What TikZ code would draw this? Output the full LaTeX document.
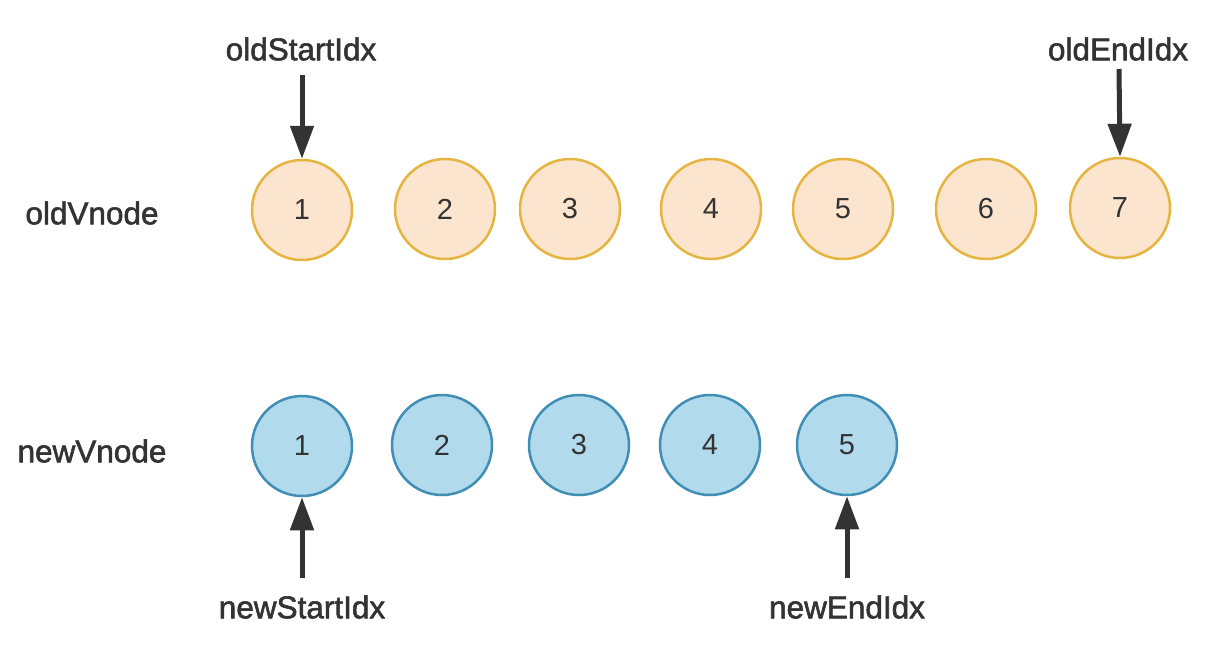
\documentclass[tikz,border=0pt]{standalone}
\usepackage{fontspec}
\setmainfont{Liberation Sans}
\newfontface\medface{Liberation Sans}[FakeBold=1.8]
\usetikzlibrary{arrows.meta}
\definecolor{ofill}{RGB}{252,229,206}
\definecolor{odraw}{RGB}{230,180,64}
\definecolor{bfill}{RGB}{177,218,237}
\definecolor{bdraw}{RGB}{64,142,180}
\definecolor{ink}{RGB}{51,51,51}
\begin{document}
\begin{tikzpicture}[x=1pt,y=-1pt,
  oldc/.style={circle,draw=odraw,fill=ofill,line width=2.5pt,minimum size=100pt,inner sep=0pt,font=\fontsize{29}{32}\selectfont,text=ink},
  newc/.style={circle,draw=bdraw,fill=bfill,line width=2.5pt,minimum size=100pt,inner sep=0pt,font=\fontsize{29}{32}\selectfont,text=ink},
  lbl/.style={inner sep=0pt,font=\medface\fontsize{31.5}{34}\selectfont,text=ink},
  arr/.style={draw=ink,line width=5pt,-{Triangle[length=33pt,width=23pt]}}]
\useasboundingbox (0,0) rectangle (1220,654);
% row labels
\node[lbl] (oldlbl) at (92,213) {oldVnode};
\node[lbl] (newlbl) at (92,451) {newVnode};
% old vnodes
\node[oldc] (o1) at (302,210) {1};
\node[oldc] (o2) at (445,209) {2};
\node[oldc] (o3) at (570,209) {3};
\node[oldc] (o4) at (711,209) {4};
\node[oldc] (o5) at (843,209) {5};
\node[oldc] (o6) at (986,209) {\raisebox{-5pt}{6}};
\node[oldc] (o7) at (1120,208) {7};
% new vnodes
\node[newc] (n1) at (302,446) {1};
\node[newc] (n2) at (442,445) {2};
\node[newc] (n3) at (579,445) {3};
\node[newc] (n4) at (710,445) {4};
\node[newc] (n5) at (847,445) {5};
% index labels
\node[lbl] (osi) at (301,49) {oldStartIdx};
\node[lbl] (oei) at (1118,49) {oldEndIdx};
\node[lbl] (nsi) at (302,607) {newStartIdx};
\node[lbl] (nei) at (847,607) {newEndIdx};
% arrow tails
\coordinate (osiT) at (302,75);
\coordinate (oeiT) at (1119,69);
\coordinate (nsiT) at (302,578);
\coordinate (neiT) at (847,578);
\draw[arr] (osiT) -- (o1.north);
\draw[arr] (oeiT) -- (o7.north);
\draw[arr] (nsiT) -- (n1.south);
\draw[arr] (neiT) -- (n5.south);
\end{tikzpicture}
\end{document}
